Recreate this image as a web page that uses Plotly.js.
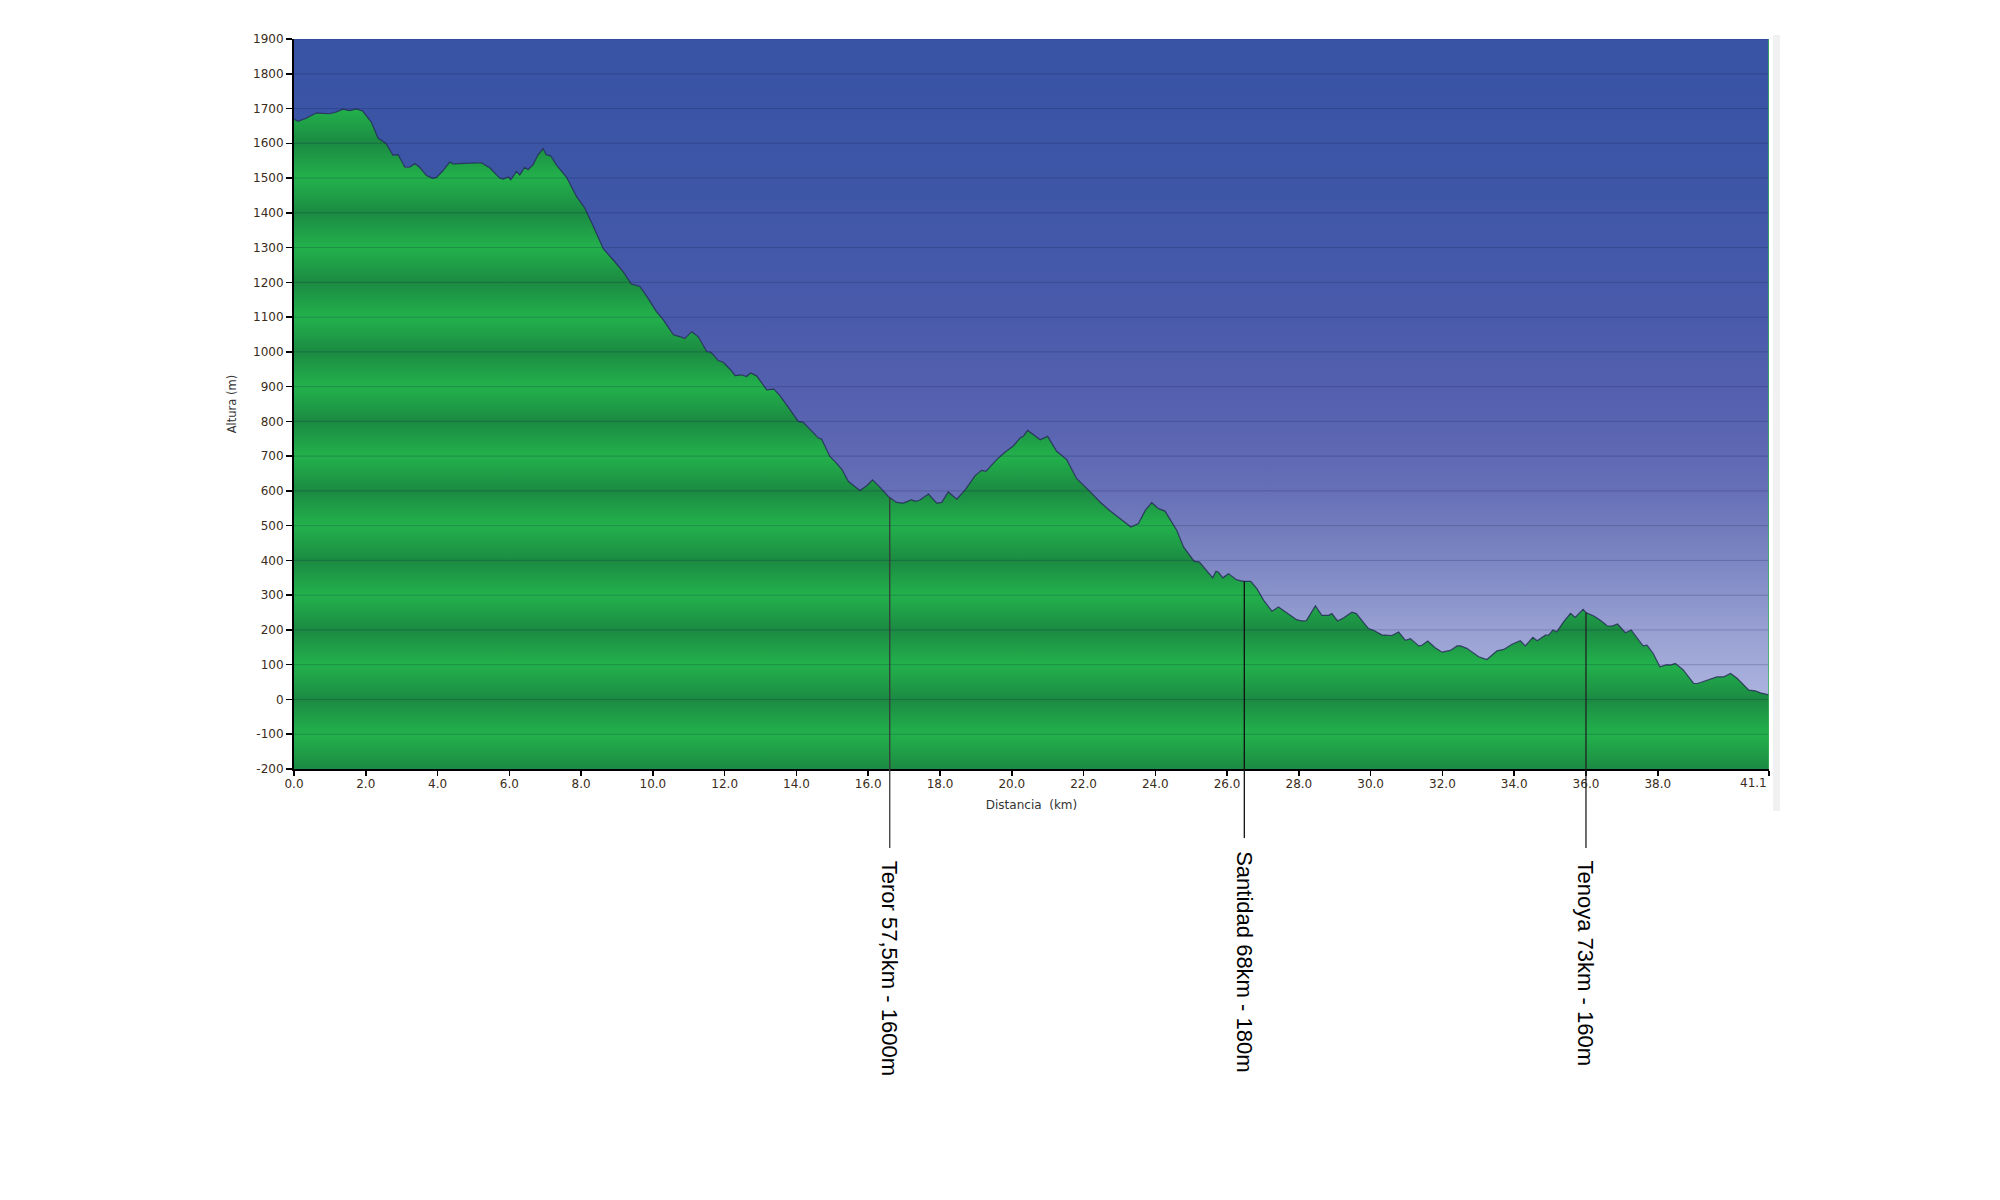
<!DOCTYPE html>
<html>
<head>
<meta charset="utf-8">
<script src="https://cdn.plot.ly/plotly-3.0.1.min.js"></script>
<style>html,body{margin:0;padding:0;background:#fff;}#chart{width:2000px;height:1200px;}</style>
</head>
<body>
<div id="chart"></div>
<script>
// ---- data ----
const distanceKm = [0, 0.11, 0.34, 0.62, 1.0, 1.18, 1.37, 1.55, 1.74, 1.92, 2.16, 2.34, 2.57, 2.76, 2.9, 3.09, 3.22, 3.37, 3.5, 3.69, 3.86, 3.97, 4.15, 4.34, 4.43, 4.81, 5.22, 5.46, 5.73, 5.83, 5.97, 6.04, 6.2, 6.29, 6.43, 6.52, 6.66, 6.8, 6.94, 7.03, 7.15, 7.31, 7.59, 7.87, 8.1, 8.34, 8.62, 8.89, 9.17, 9.4, 9.64, 9.82, 10.1, 10.29, 10.57,
  10.75, 10.89, 11.08, 11.26, 11.5, 11.61, 11.68, 11.82, 11.96, 12.15, 12.29, 12.47, 12.61, 12.72, 12.89, 13.03, 13.17, 13.37, 13.54, 13.77, 14.05, 14.19, 14.42, 14.61, 14.7, 14.93, 15.07, 15.26, 15.45, 15.77, 15.96, 16.12, 16.33, 16.56, 16.79, 16.98, 17.21, 17.3, 17.43, 17.68, 17.91, 18.05, 18.23, 18.47, 18.7, 18.98, 19.16, 19.28, 19.58, 19.81, 20.05, 20.23, 20.32, 20.44, 20.6, 20.79, 21.0, 21.25, 21.53,
  21.81, 22.18, 22.46, 22.7, 23.02, 23.32, 23.53, 23.72, 23.9, 24.09, 24.27, 24.6, 24.79, 24.93, 25.08, 25.23, 25.44, 25.6, 25.69, 25.76, 25.88, 26.04, 26.27, 26.46, 26.66, 26.83, 27.02, 27.25, 27.43, 27.67, 27.95, 28.08, 28.21, 28.46, 28.64, 28.83, 28.92, 29.08, 29.25, 29.48, 29.6, 29.94, 30.08, 30.31, 30.59, 30.78, 30.97, 31.11, 31.34, 31.43, 31.59, 31.8, 31.99, 32.22, 32.41,
  32.5, 32.68, 33.01, 33.24, 33.52, 33.71, 33.94, 34.17, 34.31, 34.52, 34.64, 34.87, 34.96, 35.08, 35.19, 35.38, 35.57, 35.7, 35.92, 36.01, 36.22, 36.4, 36.59, 36.73, 36.88, 37.1, 37.26, 37.42, 37.59, 37.7, 37.87, 38.06, 38.26, 38.35, 38.49, 38.71, 38.86, 39.0, 39.11, 39.37, 39.65, 39.84, 40.03, 40.21, 40.54, 40.72, 40.86, 41.1];

const elevationM = [1670, 1663, 1672, 1687, 1685, 1690, 1698, 1694, 1699, 1692, 1660, 1615, 1599, 1565, 1567, 1531, 1531, 1541, 1531, 1507, 1499, 1502, 1521, 1546, 1541, 1542, 1544, 1529, 1500, 1497, 1503, 1495, 1519, 1509, 1531, 1524, 1538, 1567, 1585, 1567, 1564, 1538, 1503, 1447, 1414, 1361, 1296, 1265, 1231, 1195, 1188, 1161, 1116, 1092, 1049,
  1044, 1038, 1058, 1044, 1001, 999, 992, 975, 970, 950, 932, 934, 929, 939, 931, 910, 891, 893, 874, 841, 800, 797, 771, 752, 749, 699, 685, 663, 627, 601, 615, 632, 610, 584, 567, 565, 575, 570, 573, 591, 565, 567, 597, 576, 603, 644, 659, 656, 690, 711, 730, 752, 757, 774, 762, 747, 757, 714, 690,
  635, 598, 568, 546, 520, 496, 506, 544, 566, 549, 542, 486, 438, 419, 398, 395, 371, 350, 369, 366, 350, 362, 344, 340, 340, 319, 285, 254, 266, 249, 229, 226, 227, 269, 242, 242, 247, 226, 235, 251, 247, 204, 199, 186, 184, 194, 170, 175, 154, 156, 168, 149, 136, 141, 154,
  154, 147, 123, 115, 140, 144, 159, 169, 154, 179, 169, 185, 185, 200, 195, 224, 248, 236, 259, 249, 240, 228, 212, 211, 217, 192, 200, 176, 154, 156, 133, 94, 100, 99, 104, 85, 64, 46, 46, 56, 65, 65, 75, 61, 27, 25, 19, 13];

const markerKm = [16.6, 26.48, 36.0];
const markerLabels = ["Teror 57,5km - 1600m", "Santidad 68km - 180m", "Tenoya 73km - 160m"];

const yTickVals = [-200, -100, 0, 100, 200, 300, 400, 500, 600, 700, 800, 900, 1000, 1100, 1200, 1300, 1400, 1500, 1600, 1700, 1800, 1900];
const xTickVals = [0, 2, 4, 6, 8, 10, 12, 14, 16, 18, 20, 22, 24, 26, 28, 30, 32, 34, 36, 38, 41.1];

// ---- style / layout constants ----
const Y_MIN = -200, Y_MAX = 1900, X_MIN = 0, X_MAX = 41.1;
const M = {l: 294, r: 231, t: 39, b: 431};
const PLOT_H = 1200 - M.t - M.b;
const markerStyle = [
  {color: '#3a3a3a', lineEndPx: 79, textTopPx: 90},
  {color: '#111111', lineEndPx: 69, textTopPx: 80},
  {color: '#222222', lineEndPx: 79, textTopPx: 90}
];
const skyStops = [[1900, '#3953a5'], [1500, '#3d56a6'], [1100, '#4a5aab'], [800, '#5863b1'], [600, '#6670b7'], [400, '#7c86c2'], [200, '#98a0d3'], [0, '#adb4df'], [-200, '#bcc2e8']];
const greenDark = '#1b8a42', greenMid = '#1f9e47', greenLight = '#23b14c';

function norm(v) { return (v - Y_MIN) / (Y_MAX - Y_MIN); }

const skyScale = skyStops.slice().reverse().map(s => [norm(s[0]), s[1]]);
const groundScale = [];
for (let v = Y_MIN; v <= Y_MAX; v += 50) {
  const r = ((v % 200) + 200) % 200;
  const c = r === 0 ? greenDark : (r === 100 ? greenLight : greenMid);
  groundScale.push([norm(v), c]);
}

function elevAt(km) {
  for (let i = 1; i < distanceKm.length; i++) {
    if (km <= distanceKm[i]) {
      const t = (km - distanceKm[i - 1]) / (distanceKm[i] - distanceKm[i - 1]);
      return elevationM[i - 1] + t * (elevationM[i] - elevationM[i - 1]);
    }
  }
  return elevationM[elevationM.length - 1];
}

const traces = [
  {x: [X_MIN, X_MAX], y: [Y_MIN, Y_MIN], mode: 'lines', line: {width: 0}, hoverinfo: 'skip', showlegend: false},
  {x: distanceKm, y: elevationM, mode: 'lines', fill: 'tonexty',
   fillgradient: {type: 'vertical', colorscale: groundScale, start: Y_MIN, stop: Y_MAX},
   line: {color: 'rgba(25,35,75,0.8)', width: 1.2}, showlegend: false},
  {x: [X_MIN, X_MAX], y: [Y_MAX, Y_MAX], mode: 'lines', fill: 'tonexty',
   fillgradient: {type: 'vertical', colorscale: skyScale, start: Y_MIN, stop: Y_MAX},
   line: {width: 0}, hoverinfo: 'skip', showlegend: false}
];

const shapes = [];
yTickVals.forEach(v => {
  if (v === Y_MIN) return;
  shapes.push({type: 'line', xref: 'paper', yref: 'y', x0: 0, x1: 1, y0: v, y1: v,
    line: {color: 'rgba(15,25,70,0.22)', width: 1}, layer: 'above'});
});
shapes.push({type: 'line', xref: 'x', yref: 'y', x0: X_MAX, x1: X_MAX, y0: Y_MIN, y1: Y_MAX,
  line: {color: '#35b457', width: 1.5}, layer: 'above'});
shapes.push({type: 'rect', xref: 'paper', yref: 'paper', x0: 1.0027, x1: 1.0075, y0: -0.0575, y1: 1.0055,
  fillcolor: '#f1f1f1', line: {width: 0}, layer: 'below'});

const annotations = [];
markerKm.forEach((k, i) => {
  const st = markerStyle[i];
  shapes.push({type: 'line', xref: 'x', yref: 'paper', x0: k, x1: k,
    y0: norm(elevAt(k)), y1: -st.lineEndPx / PLOT_H,
    line: {color: st.color, width: 1.3}, layer: 'above'});
  annotations.push({x: k, xref: 'x', y: -st.textTopPx / PLOT_H, yref: 'paper',
    xanchor: 'center', yanchor: 'top', textangle: 90, showarrow: false,
    text: markerLabels[i], font: {family: 'Liberation Sans, Arial, sans-serif', size: 22, color: '#000'}});
});

const tickFont = {family: 'DejaVu Sans, Verdana, sans-serif', size: 12, color: '#3b2c20'};
// last x tick label sits left of its tick in the reference
const lastIdx = xTickVals.length - 1;
annotations.push({x: xTickVals[lastIdx], xref: 'x', y: -14 / PLOT_H, yref: 'paper',
  xanchor: 'right', yanchor: 'middle', showarrow: false,
  text: xTickVals[lastIdx].toFixed(1), font: tickFont});

const layout = {
  width: 2000, height: 1200,
  margin: M,
  paper_bgcolor: '#ffffff', plot_bgcolor: '#ffffff',
  showlegend: false,
  xaxis: {
    range: [X_MIN, X_MAX], tickvals: xTickVals,
    ticktext: xTickVals.map((v, i) => i === lastIdx ? '' : v.toFixed(1)),
    showgrid: false, zeroline: false, showline: true, linecolor: '#000', linewidth: 2,
    ticks: 'outside', ticklen: 5, tickcolor: '#000', tickwidth: 1.5, tickfont: tickFont,
    ticklabelstandoff: -2,
    title: {text: 'Distancia  (km)', font: {family: 'DejaVu Sans, Verdana, sans-serif', size: 12, color: '#333'}, standoff: 10}
  },
  yaxis: {
    range: [Y_MIN, Y_MAX], tickvals: yTickVals, ticktext: yTickVals.map(v => String(v)),
    showgrid: false, zeroline: false, showline: true, linecolor: '#000', linewidth: 2,
    ticks: 'outside', ticklen: 6, tickcolor: '#000', tickwidth: 1.5, tickfont: tickFont,
    title: {text: 'Altura (m)', font: {family: 'DejaVu Sans, Verdana, sans-serif', size: 11.5, color: '#333'}, standoff: 14}
  },
  shapes: shapes,
  annotations: annotations
};

Plotly.newPlot('chart', traces, layout, {staticPlot: true});
</script>
</body>
</html>
